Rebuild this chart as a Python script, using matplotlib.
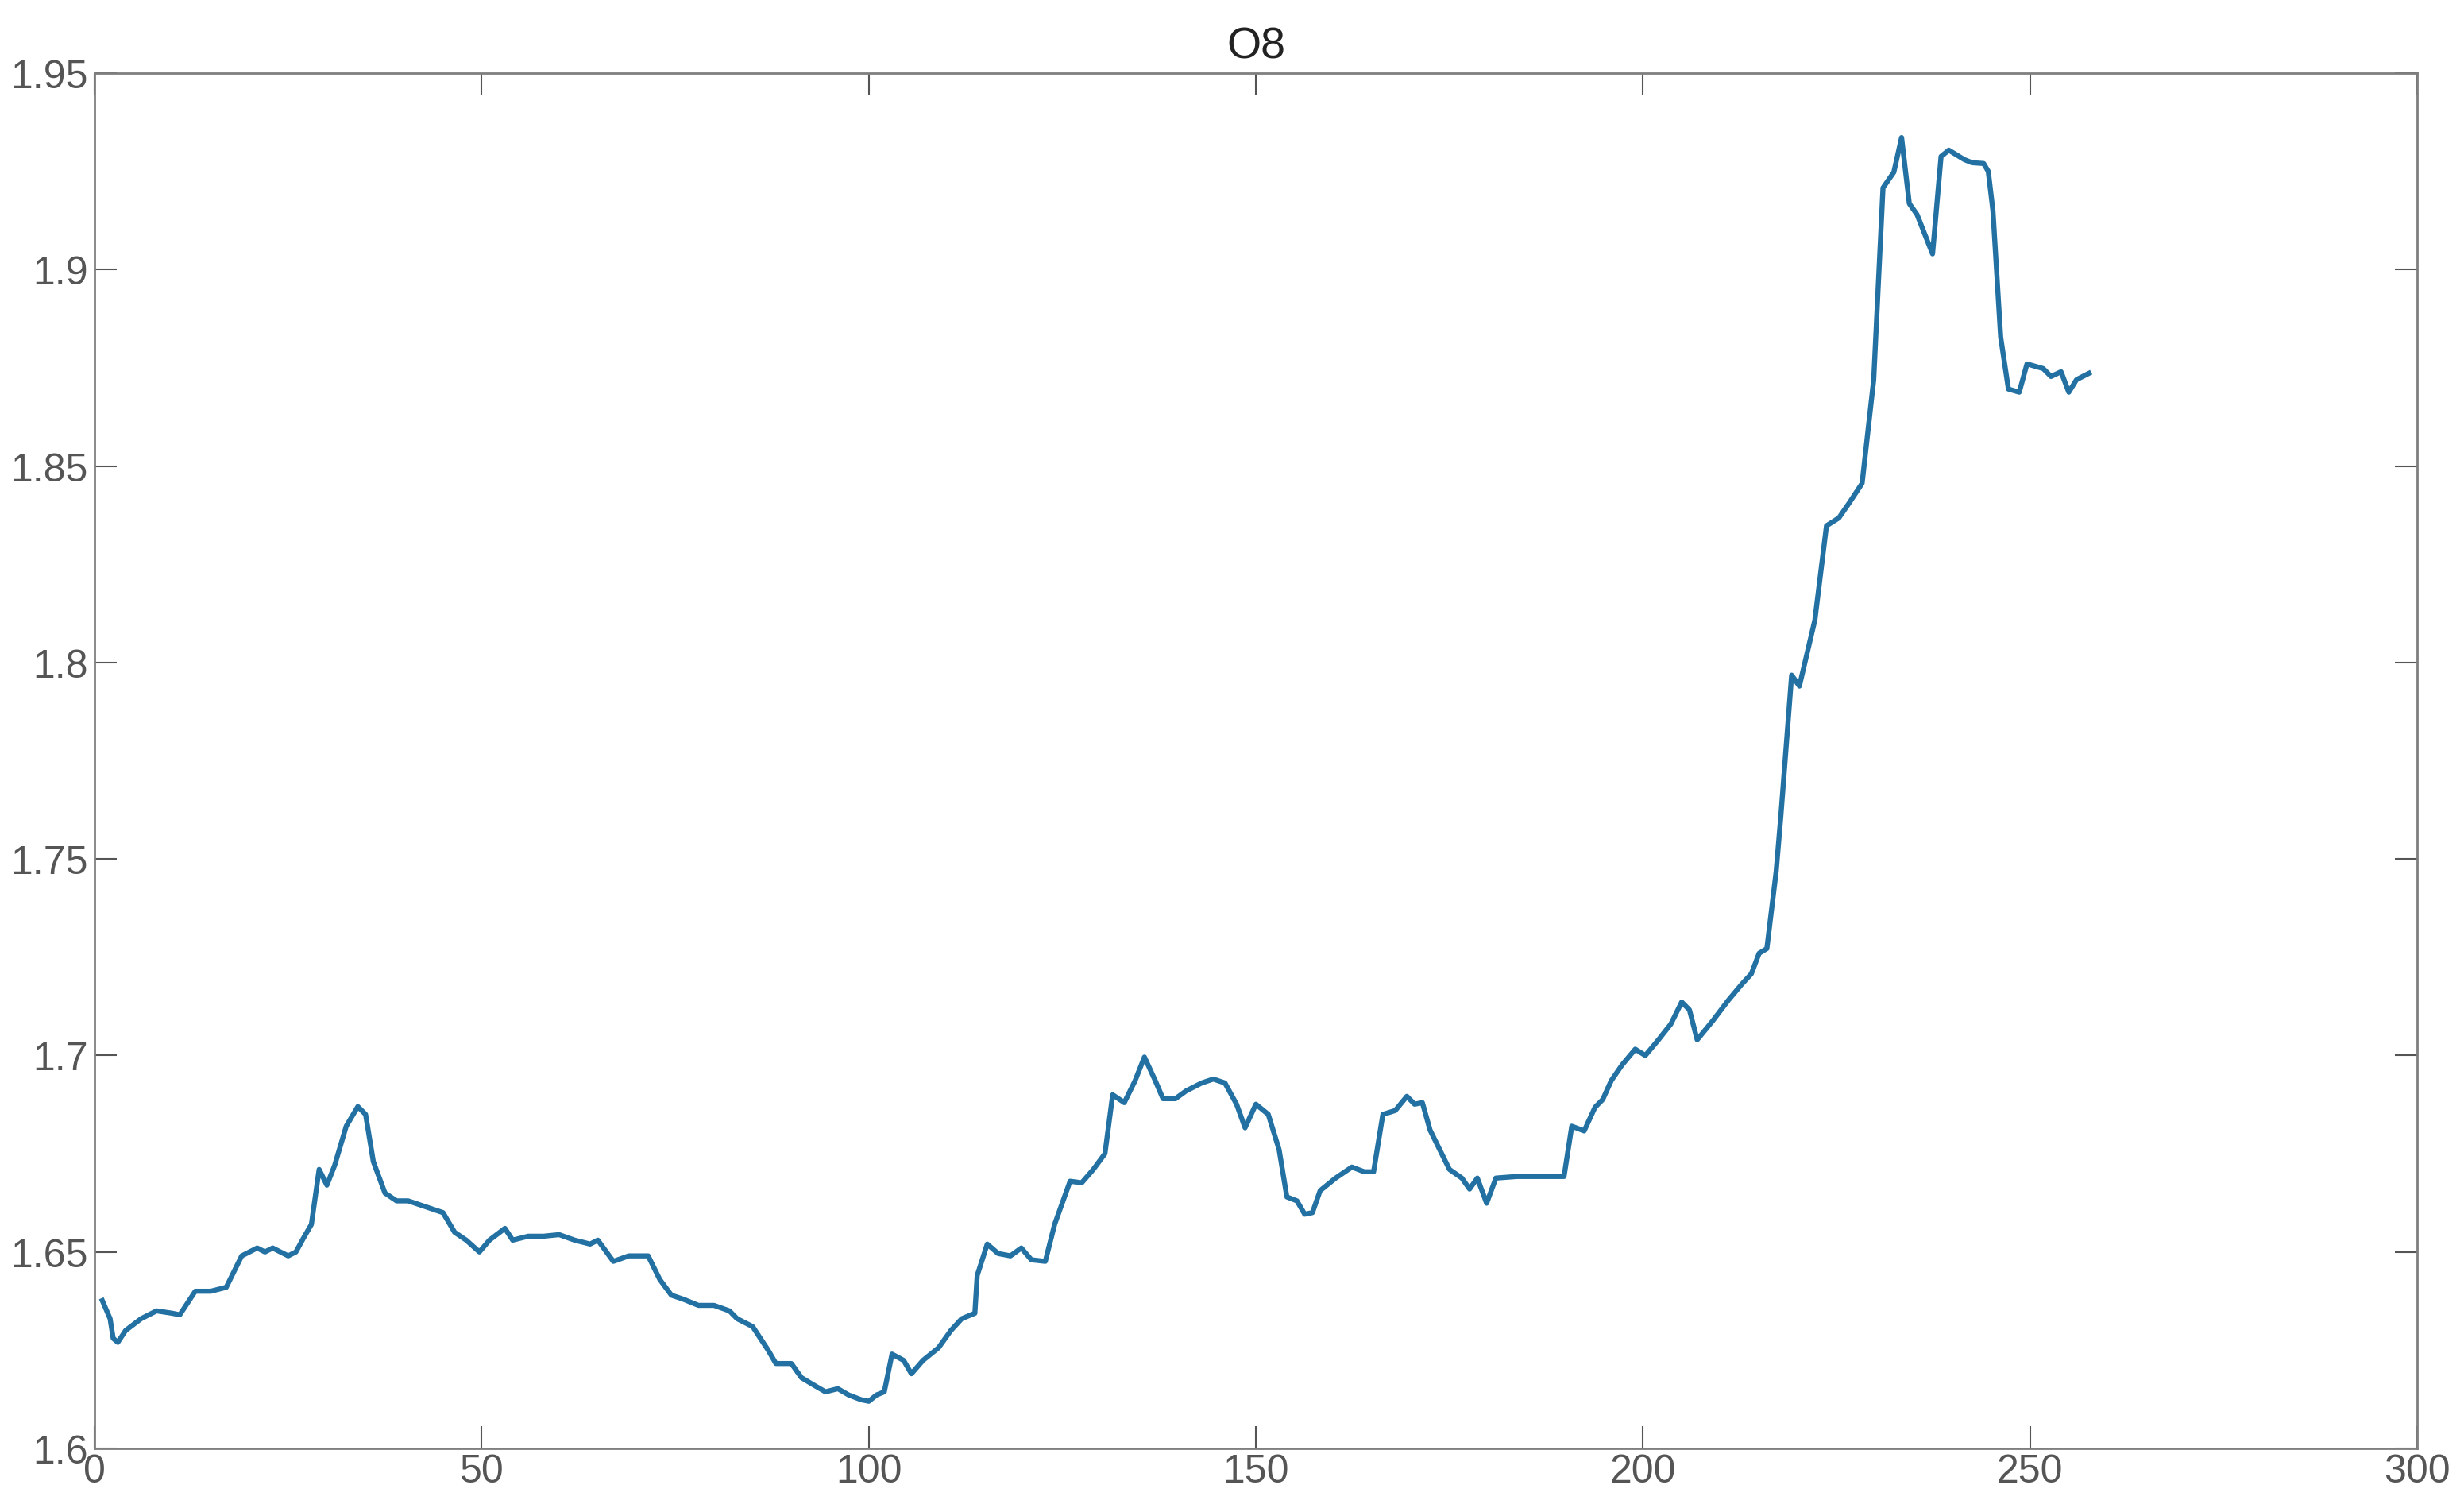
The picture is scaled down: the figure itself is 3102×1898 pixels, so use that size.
import matplotlib
matplotlib.use("Agg")
import matplotlib.pyplot as plt

# sample index / value
x = [1, 2, 2.4, 3, 4, 6, 8, 10, 11, 12, 13, 15, 17, 18, 19, 21, 22, 23, 24, 25,
     26, 27, 28, 29, 30, 31, 32.5, 34, 35, 36, 37.5, 39, 40.5, 42, 43.5, 45, 46.5,
     48, 49.7, 51, 53, 54, 56, 58, 60, 62, 64, 65, 67, 69, 71.5, 73, 74.5, 76, 78,
     80, 82, 83, 85, 87, 88, 90, 91.3, 93, 94.4, 96, 97.4, 99, 100, 101, 102, 103,
     104.5, 105.5, 107, 109, 110.6, 112, 113.7, 114, 115.3, 116.7, 118.3, 119.7,
     121, 122.8, 124, 126, 127.5, 129, 130.5, 131.5, 133, 134.4, 135.6, 137, 138,
     139.6, 141, 143, 144.5, 146, 147.5, 148.6, 150, 151.6, 153, 154, 155.3, 156.3,
     157.3, 158.3, 160.3, 162.4, 164, 165.2, 166.4, 168, 169.5, 170.5, 171.5,
     172.5, 173.5, 175, 176.6, 177.6, 178.6, 179.8, 181, 183.7, 186.7, 189.8,
     190.8, 192.4, 193.8, 194.8, 195.9, 197.3, 199, 200.3, 202, 203.6, 205, 206,
     207, 209, 211, 212.7, 214, 215, 216, 217.2, 217.8, 219.2, 220.2, 222.2,
     223.7, 225.3, 226.7, 228.3, 229.8, 231, 232.4, 233.4, 234.4, 235.4, 237.4,
     238.5, 239.5, 241.5, 242.5, 244, 244.6, 245.2, 246.2, 247.2, 248.6, 249.6,
     251.7, 252.7, 254, 255, 256, 257.6]
y = [1.6376, 1.633, 1.628, 1.627, 1.630, 1.633, 1.635, 1.6344, 1.634, 1.637,
     1.640, 1.640, 1.641, 1.645, 1.649, 1.651, 1.650, 1.651, 1.650, 1.649, 1.650,
     1.6536, 1.657, 1.671, 1.667, 1.672, 1.682, 1.687, 1.685, 1.673, 1.665, 1.663,
     1.663, 1.662, 1.661, 1.660, 1.655, 1.653, 1.650, 1.653, 1.656, 1.653, 1.654,
     1.654, 1.6544, 1.653, 1.652, 1.653, 1.6476, 1.649, 1.649, 1.643, 1.639, 1.638,
     1.6364, 1.6364, 1.635, 1.633, 1.631, 1.625, 1.6216, 1.6216, 1.618, 1.616,
     1.6144, 1.6152, 1.6136, 1.6124, 1.612, 1.6136, 1.6144, 1.624, 1.6224, 1.619,
     1.6224, 1.6256, 1.630, 1.633, 1.6344, 1.644, 1.652, 1.6496, 1.649, 1.651,
     1.648, 1.6476, 1.657, 1.668, 1.6676, 1.671, 1.675, 1.690, 1.688, 1.6936,
     1.6996, 1.6936, 1.689, 1.689, 1.691, 1.693, 1.694, 1.693, 1.6876, 1.6816,
     1.6876, 1.685, 1.676, 1.664, 1.663, 1.6596, 1.660, 1.6656, 1.6688, 1.6716,
     1.6704, 1.6704, 1.685, 1.686, 1.6896, 1.6876, 1.688, 1.681, 1.677, 1.671,
     1.6688, 1.666, 1.6688, 1.6624, 1.6688, 1.6692, 1.6692, 1.6692, 1.682, 1.6808,
     1.6868, 1.6888, 1.6936, 1.6976, 1.7016, 1.700, 1.704, 1.708, 1.7136, 1.7116,
     1.704, 1.7088, 1.714, 1.718, 1.7208, 1.726, 1.7272, 1.7468, 1.7608, 1.7968,
     1.794, 1.8108, 1.8348, 1.8368, 1.8408, 1.8456, 1.872, 1.9208, 1.9248, 1.9336,
     1.9168, 1.914, 1.904, 1.9288, 1.9304, 1.928, 1.9272, 1.927, 1.925, 1.915,
     1.8828, 1.8696, 1.8688, 1.876, 1.8748, 1.8728, 1.874, 1.8688, 1.872, 1.8736]

title = "O8"
xticks = [0, 50, 100, 150, 200, 250, 300]
yticks = [1.6, 1.65, 1.7, 1.75, 1.8, 1.85, 1.9, 1.95]
yticklabels = ["1.6", "1.65", "1.7", "1.75", "1.8", "1.85", "1.9", "1.95"]

plt.rcParams['font.family'] = ['Liberation Sans Narrow', 'Liberation Sans', 'DejaVu Sans']

fig = plt.figure(figsize=(31.02, 18.99), dpi=100)
ax = fig.add_axes([0.0384, 0.0395, 0.9426, 0.9115])

ax.plot(x, y, color='#2271a2', linewidth=4.6, solid_joinstyle='round')

ax.set_xlim(0, 300)
ax.set_ylim(1.6, 1.95)
ax.set_xticks(xticks)
ax.set_yticks(yticks)
ax.set_yticklabels(yticklabels)

for s in ax.spines.values():
    s.set_color('#7f7f7f')
    s.set_linewidth(2)

ax.tick_params(axis='both', direction='in', length=20, width=1.5,
               colors='#555555', labelsize=36, top=True, right=True)
ax.tick_params(axis='x', pad=4)
ax.tick_params(axis='y', pad=6)

ax.set_title(title, fontsize=40, color='#222222', pad=14)

fig.savefig("out.png", dpi=100, facecolor='white')
